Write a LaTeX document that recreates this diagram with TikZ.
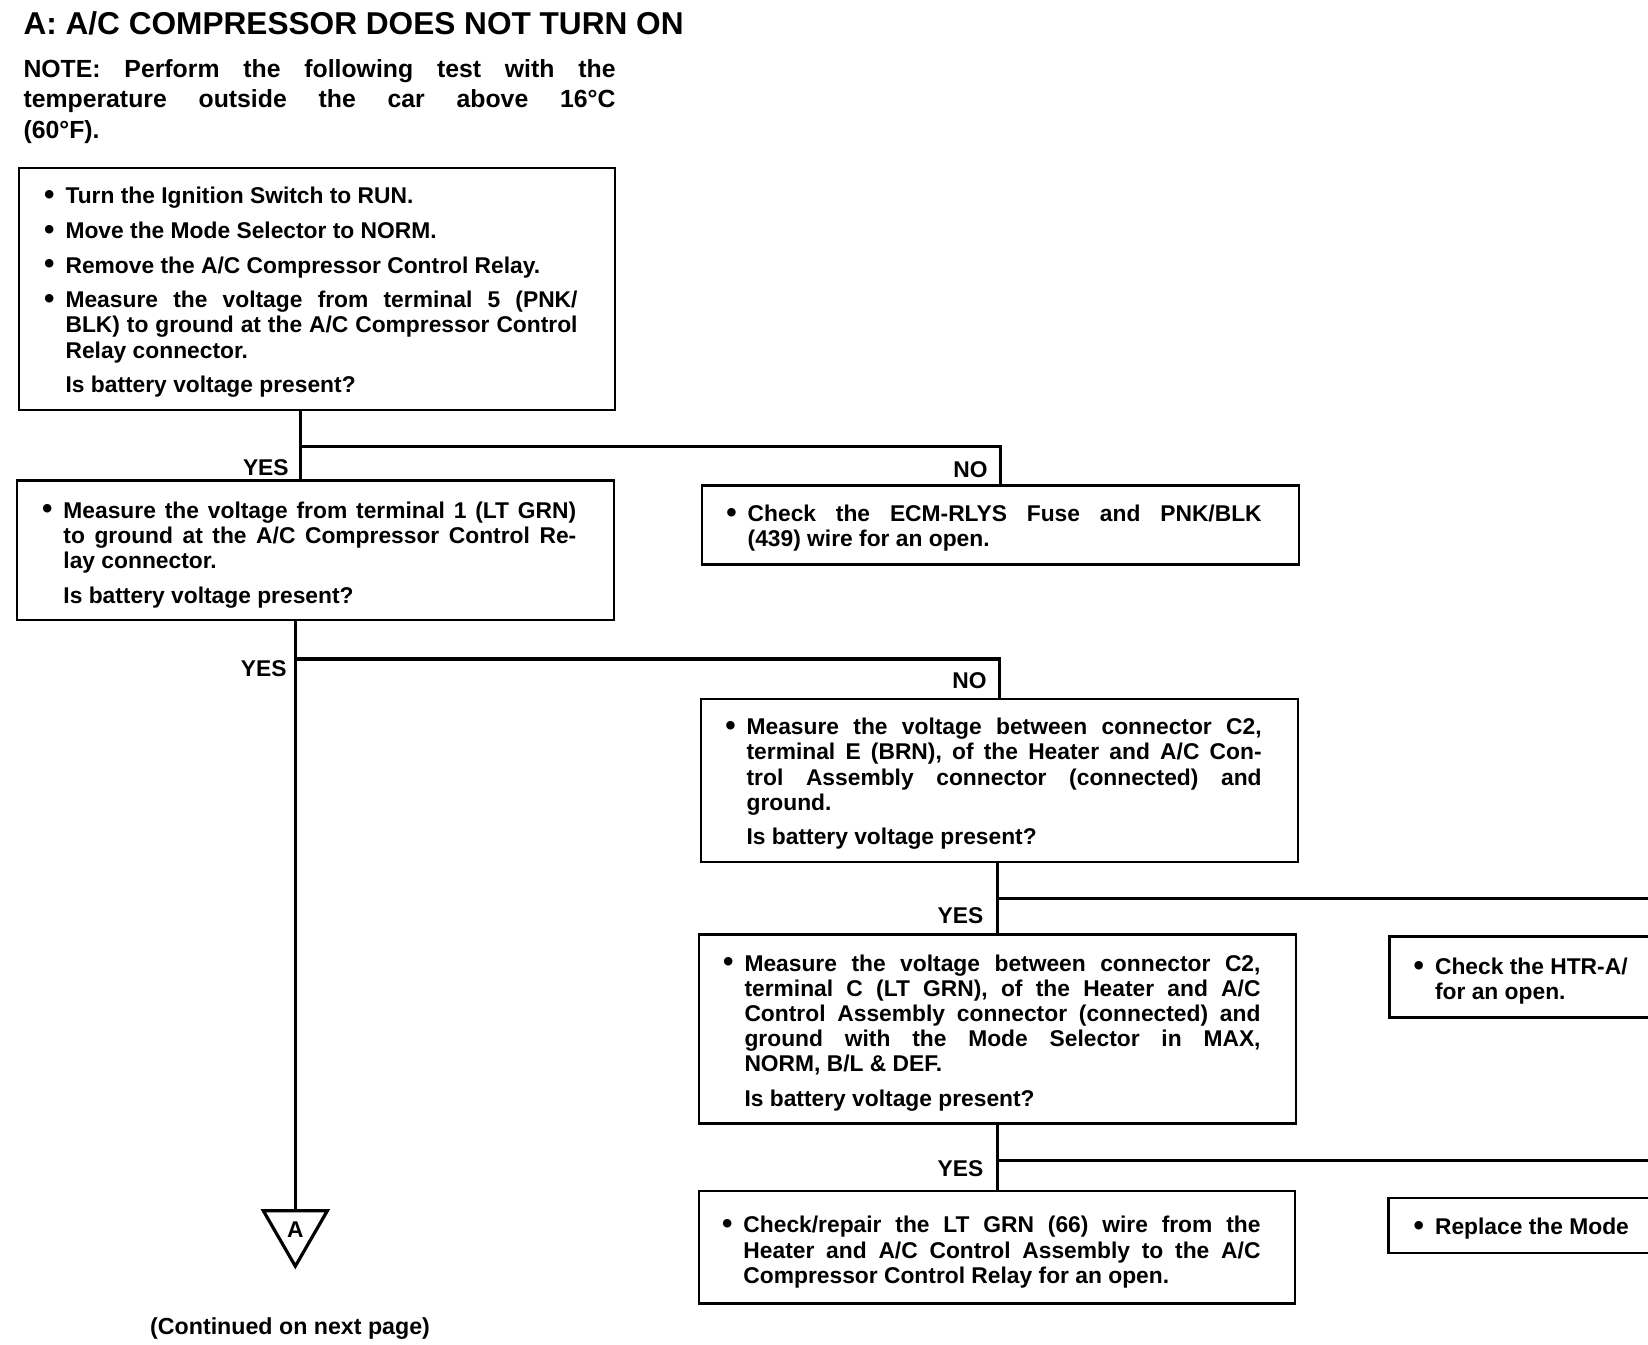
\documentclass[tikz,border=0pt]{standalone}
\usepackage{fontspec}
\setmainfont{Liberation Sans}
\usetikzlibrary{fit,shapes.geometric}
\newcommand\JL[1]{\makebox[\linewidth][s]{#1}}
\newcommand\BUL{\leavevmode\llap{\raisebox{-0.35pt}{\scalebox{1.3}{\textbullet}}\hspace{5.5pt}}}
\newcommand\QQ{\\[4.7pt]}
\begin{document}
\begin{tikzpicture}[x=0.5255pt,y=-0.5255pt,
  box/.style={draw,line width=1.3pt,inner sep=0pt},
  conn/.style={line width=1.6pt},
  txt/.style={anchor=base west,inner sep=0pt,font=\fontsize{11.4}{12.6}\selectfont\bfseries},
  lbl/.style={anchor=base east,inner sep=0pt,font=\fontsize{11.4}{12.6}\selectfont\bfseries}]
\fill[white] (0,0) rectangle (1568,1279);
\useasboundingbox (0,0) rectangle (1568,1279);
\clip (0,0) rectangle (1568,1279);

\node[anchor=base west,inner sep=0pt,font=\fontsize{15.8}{18}\selectfont\bfseries] (title) at (22,33) {A: A/C COMPRESSOR DOES NOT TURN ON};
\node[anchor=base west,inner sep=0pt,font=\fontsize{12.4}{15.2}\selectfont\bfseries] (note) at (22,73.5)
 {\parbox[t]{296pt}{\JL{NOTE: Perform the following test with the}\\\JL{temperature outside the car above 16°C}\\(60°F).}};

% boxes
\node[box,fit={(18,160)(585,390)}] (b1) {};
\node[box,fit={(16,457)(584,590)}] (b2) {};
\node[box,fit={(668,462)(1236,537)}] (b3) {};
\node[box,fit={(667,665)(1235,820)}] (b4) {};
\node[box,fit={(665,889)(1233,1069)}] (b5) {};
\node[box,fit={(1322,891)(1620,968)}] (b6) {};
\node[box,fit={(665,1133)(1232,1240)}] (b7) {};
\node[box,fit={(1321,1140)(1620,1192)}] (b8) {};

% texts
\node[txt] (t1) at (62,194) {\parbox[t]{256pt}{%
\BUL Turn the Ignition Switch to RUN.\QQ
\BUL Move the Mode Selector to NORM.\QQ
\BUL Remove the A/C Compressor Control Relay.\QQ
\BUL\JL{Measure the voltage from terminal 5 (PNK/}\\
\JL{BLK) to ground at the A/C Compressor Control}\\
Relay connector.\QQ
Is battery voltage present?}};

\node[txt] (t2) at (60,493) {\parbox[t]{256.4pt}{%
\BUL\JL{Measure the voltage from terminal 1 (LT GRN)}\\
\JL{to ground at the A/C Compressor Control Re-}\\
lay connector.\QQ
Is battery voltage present?}};

\node[txt] (t3) at (711,496) {\parbox[t]{257pt}{%
\BUL\JL{Check the ECM-RLYS Fuse and PNK/BLK}\\
(439) wire for an open.}};

\node[txt] (t4) at (710,699) {\parbox[t]{257.5pt}{%
\BUL\JL{Measure the voltage between connector C2,}\\
\JL{terminal E (BRN), of the Heater and A/C Con-}\\
\JL{trol Assembly connector (connected) and}\\
ground.\QQ
Is battery voltage present?}};

\node[txt] (t5) at (708,924) {\parbox[t]{258pt}{%
\BUL\JL{Measure the voltage between connector C2,}\\
\JL{terminal C (LT GRN), of the Heater and A/C}\\
\JL{Control Assembly connector (connected) and}\\
\JL{ground with the Mode Selector in MAX,}\\
NORM, B/L \& DEF.\QQ
Is battery voltage present?}};

\node[txt] (t6) at (1365,927) {\parbox[t]{200pt}{%
\BUL Check the HTR-A/\\
for an open.}};

\node[txt] (t7) at (707,1173) {\parbox[t]{258.5pt}{%
\BUL\JL{Check/repair the LT GRN (66) wire from the}\\
\JL{Heater and A/C Control Assembly to the A/C}\\
Compressor Control Relay for an open.}};

\node[txt] (t8) at (1365,1175) {\BUL Replace the Mode};

% triangle
\node[draw,line width=1.6pt,regular polygon,regular polygon sides=3,shape border rotate=180,
  minimum size=37pt,inner sep=0pt,font=\fontsize{11.4}{12.6}\selectfont\bfseries] (tri) at (281,1169.5) {A};

\node[anchor=base,inner sep=0pt,font=\fontsize{11.6}{13}\selectfont\bfseries] (cont) at (276,1270) {(Continued on next page)};

% connectors
\coordinate (j1) at (286,425); \coordinate (k1) at (952,425);
\draw[conn] (b1.south -| j1) -- (b2.north -| j1);
\draw[conn] (j1) -- (k1) -- (k1 |- b3.north);
\coordinate (j2) at (281,627); \coordinate (k2) at (951,627);
\draw[conn] (b2.south -| tri.north) -- (tri.north);
\draw[conn] (j2) -- (k2) -- (k2 |- b4.north);
\coordinate (j3) at (949,855); \coordinate (e3) at (1600,855);
\draw[conn] (b4.south -| j3) -- (b5.north -| j3);
\draw[conn] (j3) -- (e3);
\coordinate (j4) at (949,1104); \coordinate (e4) at (1600,1104);
\draw[conn] (b5.south -| j4) -- (b7.north -| j4);
\draw[conn] (j4) -- (e4);

% labels
\node[lbl] (y1) at (275,452) {YES};
\node[lbl] (n1) at (940,454) {NO};
\node[lbl] (y2) at (273,644) {YES};
\node[lbl] (n2) at (939,655) {NO};
\node[lbl] (y3) at (936,879) {YES};
\node[lbl] (y4) at (936,1119) {YES};
\end{tikzpicture}
\end{document}
